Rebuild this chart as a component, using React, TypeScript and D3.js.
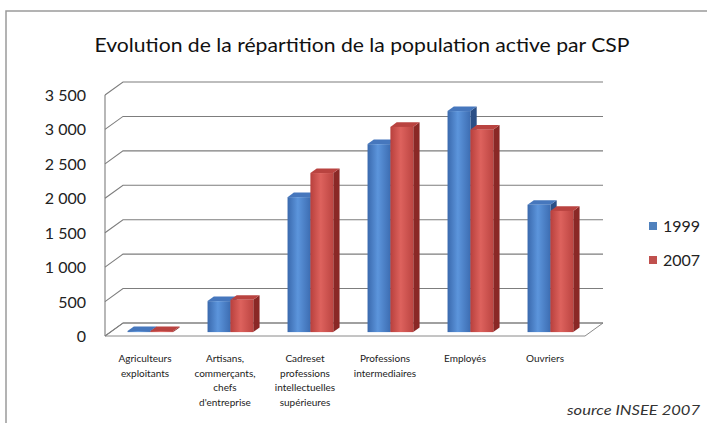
import React from "react";
import * as d3 from "d3";

const categories: string[][] = [
  ["Agriculteurs", "exploitants"],
  ["Artisans,", "commerçants,", "chefs", "d'entreprise"],
  ["Cadreset", "professions", "intellectuelles", "supérieures"],
  ["Professions", "intermediaires"],
  ["Employés"],
  ["Ouvriers"],
];
const seriesNames = ["1999", "2007"];
const values1999 = [15, 450, 1960, 2730, 3210, 1850];
const values2007 = [15, 470, 2310, 2980, 2940, 1760];
const yTicks = [0, 500, 1000, 1500, 2000, 2500, 3000, 3500];
const tickLabels = ["0", "500", "1 000", "1 500", "2 000", "2 500", "3 000", "3 500"];
const title = "Evolution de la répartition de la population active par CSP";
const source = "source INSEE 2007";

const W = 707, H = 423;
const FL = 105, FR = 585, FB = 336, FT = 95; // front plane
const DX = 18, DY = -13; // depth offset
const F0 = 0.3, F1 = 0.65; // bar depth fraction
const FONT = "Lato, 'Open Sans', sans-serif";

const colors = {
  blue: { l: "#3a69ad", m: "#5c95dc", r: "#3d6db2", side: "#2b4f86", top: "#4677bd" },
  red: { l: "#b8403d", m: "#dd625d", r: "#bc4542", side: "#8a2826", top: "#b94340" },
};

export default function App() {
  const yH = d3.scaleLinear().domain([0, 3500]).range([0, FB - FT]);
  const keys = categories.map((_, i) => String(i));
  const x0 = d3.scaleBand().domain(keys).range([FL, FR]).paddingInner(0).paddingOuter(0);
  const x1 = d3.scaleBand().domain(seriesNames).range([0, x0.bandwidth()]).paddingInner(0).paddingOuter(0.75);
  const series = [values1999, values2007];
  const pal = [colors.blue, colors.red];

  const bars: JSX.Element[] = [];
  keys.forEach((k, i) => {
    seriesNames.forEach((s, j) => {
      const v = series[j][i];
      const h = yH(v);
      const w = x1.bandwidth();
      const xa = (x0(k) as number) + (x1(s) as number) + F0 * DX;
      const base = FB + F0 * DY;
      const top = base - h;
      const ddx = (F1 - F0) * DX, ddy = (F1 - F0) * DY;
      const c = pal[j];
      bars.push(
        <g key={`b${i}-${j}`}>
          <polygon
            points={`${xa + w},${base} ${xa + w + ddx},${base + ddy} ${xa + w + ddx},${top + ddy} ${xa + w},${top}`}
            fill={c.side}
          />
          <polygon
            points={`${xa},${top} ${xa + w},${top} ${xa + w + ddx},${top + ddy} ${xa + ddx},${top + ddy}`}
            fill={c.top}
          />
          <rect x={xa} y={top} width={w} height={h} fill={`url(#g${j})`} />
        </g>
      );
    });
  });

  return (
    <svg width={W} height={H} style={{ position: "absolute", left: 0, top: 0, background: "#fff" }}>
      <defs>
        {pal.map((c, j) => (
          <linearGradient key={j} id={`g${j}`} x1="0" x2="1" y1="0" y2="0">
            <stop offset="0" stopColor={c.l} />
            <stop offset="0.45" stopColor={c.m} />
            <stop offset="1" stopColor={c.r} />
          </linearGradient>
        ))}
      </defs>
      <rect x={6} y={11} width={760} height={500} fill="#fff" stroke="#9a9a9a" strokeWidth={1.5} />
      <text x={362} y={52} textAnchor="middle" fontFamily={FONT} fontSize={20} fill="#111" textLength={535} lengthAdjust="spacingAndGlyphs">
        {title}
      </text>
      {/* floor */}
      <polygon
        points={`${FL},${FB} ${FR},${FB} ${FR + DX},${FB + DY} ${FL + DX},${FB + DY}`}
        fill="#fff" stroke="#8a8a8a" strokeWidth={1}
      />
      {/* grid lines: back wall + side wall */}
      {yTicks.map((t, i) => {
        const yf = FB - yH(t);
        return (
          <g key={`gl${i}`}>
            <polyline
              points={`${FL},${yf} ${FL + DX},${yf + DY} ${FR + DX},${yf + DY}`}
              fill="none" stroke="#7d7d7d" strokeWidth={1.1}
            />
            <text x={86} y={yf + 6} textAnchor="end" fontFamily={FONT} fontSize={16} fill="#222">
              {tickLabels[i]}
            </text>
          </g>
        );
      })}
      <line x1={FL} y1={FT} x2={FL} y2={FB} stroke="#7d7d7d" strokeWidth={1.1} />
      {bars}
      {/* category labels */}
      {categories.map((lines, i) => {
        const cx = (x0(String(i)) as number) + x0.bandwidth() / 2;
        return (
          <text key={`c${i}`} textAnchor="middle" fontFamily={FONT} fontSize={10} fill="#222">
            {lines.map((ln, li) => (
              <tspan key={li} x={cx} y={362 + li * 14.5}>{ln}</tspan>
            ))}
          </text>
        );
      })}
      {/* legend */}
      {seriesNames.map((s, j) => (
        <g key={`lg${j}`}>
          <rect x={649} y={222 + j * 34} width={8} height={8} fill={j === 0 ? "#4f81bd" : "#c0504d"} />
          <text x={663} y={232 + j * 34} fontFamily={FONT} fontSize={16} fill="#222">{s}</text>
        </g>
      ))}
      <text x={567} y={415} fontFamily={FONT} fontStyle="italic" fontSize={14} fill="#333" textLength={133} lengthAdjust="spacingAndGlyphs">
        {source}
      </text>
    </svg>
  );
}
